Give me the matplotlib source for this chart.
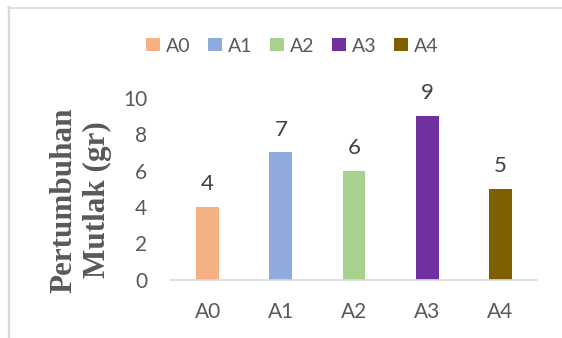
import matplotlib
matplotlib.use("Agg")
import matplotlib.pyplot as plt
from matplotlib.lines import Line2D

categories = ["A0", "A1", "A2", "A3", "A4"]
values = [4, 7, 6, 9, 5]
colors = ["#F4B183", "#8FAADC", "#A9D18E", "#7030A0", "#7F6000"]
y_ticks = [0, 2, 4, 6, 8, 10]
y_label = "Pertumbuhan\nMutlak (gr)"

W, H = 562, 338
fig = plt.figure(figsize=(W / 100, H / 100), dpi=100)
fig.patch.set_facecolor("white")

# outer chart border (light gray, top and left visible)
fig.add_artist(Line2D([8 / W, 1.0], [1 - 7.5 / H, 1 - 7.5 / H], transform=fig.transFigure,
                      color="#D9D9D9", lw=1.2))
fig.add_artist(Line2D([9 / W, 9 / W], [0, 1 - 7 / H], transform=fig.transFigure,
                      color="#D9D9D9", lw=1.6))

ax = fig.add_axes([171 / W, 1 - 279.5 / H, (537 - 171) / W, (279.5 - 98) / H])
x = list(range(len(categories)))
bars = ax.bar(x, values, width=0.314, color=colors, zorder=2)

ax.set_xlim(-0.5, 4.5)
ax.set_ylim(0, 10)
ax.set_yticks(y_ticks)
ax.set_xticks(x)
ax.set_xticklabels(categories)

for s in ["top", "right", "left"]:
    ax.spines[s].set_visible(False)
ax.spines["bottom"].set_color("#D9D9D9")
ax.spines["bottom"].set_linewidth(1.2)
ax.spines["bottom"].set_zorder(3)

ax.tick_params(axis="both", length=0, colors="#595959", labelsize=15)
ax.tick_params(axis="y", pad=17)
ax.tick_params(axis="x", pad=16)
for lab in ax.get_xticklabels() + ax.get_yticklabels():
    lab.set_fontfamily("Lato")

for xi, v in zip(x, values):
    ax.annotate(str(v), (xi, v), xytext=(0, 12), textcoords="offset points",
                ha="center", va="baseline", fontsize=16, color="#404040",
                family="Lato")

fig.text(81 / W, 1 - 200 / H, y_label, rotation=90, ha="center", va="center",
         multialignment="center", family="Liberation Serif", fontweight="bold",
         fontsize=22.4, color="#595959", linespacing=1.2)

leg = fig.legend(bars, categories, loc="center", bbox_to_anchor=(292 / W, 1 - 46 / H),
                 ncol=5, frameon=False, borderpad=0, handlelength=0.72,
                 handleheight=0.67, handletextpad=0.3, columnspacing=0.9,
                 prop={"family": "Lato", "size": 14})
for t in leg.get_texts():
    t.set_color("#595959")

fig.savefig("out.png", dpi=100)
